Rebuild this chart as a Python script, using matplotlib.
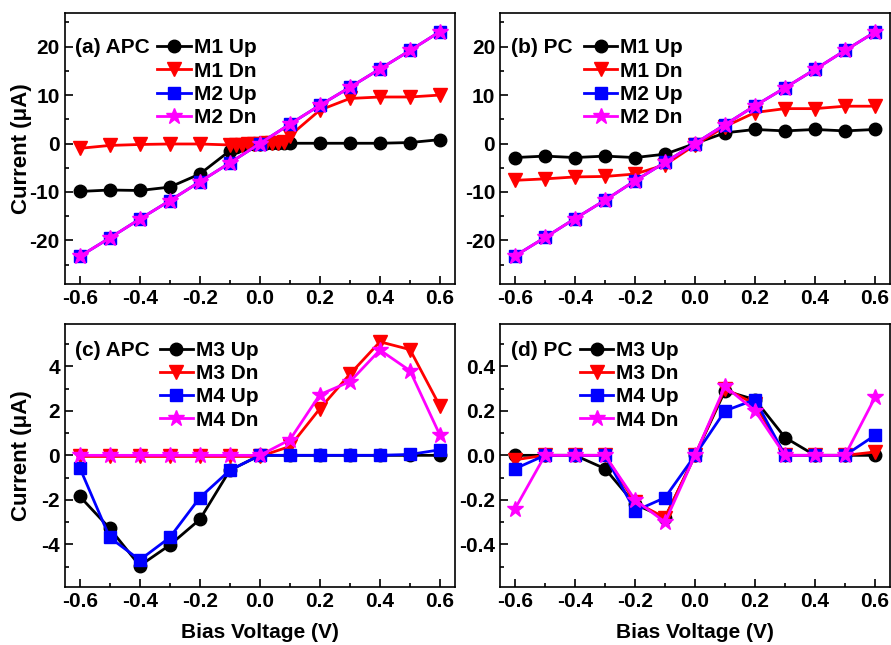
import matplotlib.pyplot as plt
from matplotlib.ticker import MultipleLocator

plt.rcParams['font.family'] = ['Liberation Sans', 'DejaVu Sans']
plt.rcParams['font.weight'] = 'bold'
plt.rcParams['axes.unicode_minus'] = False

# bias voltages
v = [-0.6, -0.5, -0.4, -0.3, -0.2, -0.1, 0.0, 0.1, 0.2, 0.3, 0.4, 0.5, 0.6]
v_fine = [-0.6, -0.5, -0.4, -0.3, -0.2, -0.1, -0.08, -0.06, -0.04, -0.02, 0.0,
          0.02, 0.04, 0.06, 0.08, 0.1, 0.2, 0.3, 0.4, 0.5, 0.6]
xticks = [-0.6, -0.4, -0.2, 0.0, 0.2, 0.4, 0.6]
xticklabels = ['-0.6', '-0.4', '-0.2', '0.0', '0.2', '0.4', '0.6']

# (a) APC
a_m1_up = [-9.9, -9.6, -9.7, -9.0, -6.3, -1.5, -0.8, -0.4, -0.2, -0.1, 0.0,
           0.05, 0.05, 0.05, 0.05, 0.05, 0.05, 0.05, 0.05, 0.2, 0.8]
a_m1_dn = [-1.0, -0.4, -0.2, -0.1, -0.1, -0.3, -0.3, -0.25, -0.2, -0.1, 0.0,
           0.1, 0.15, 0.2, 0.4, 1.6, 6.9, 9.3, 9.6, 9.6, 10.0]
a_m2_up = [-23.3, -19.5, -15.6, -11.8, -7.9, -4.0, 0.0, 4.0, 7.9, 11.6, 15.4, 19.2, 23.1]
a_m2_dn = [-23.3, -19.5, -15.6, -11.8, -7.9, -4.0, 0.0, 4.0, 7.9, 11.6, 15.4, 19.2, 23.1]

# (b) PC
b_m1_up = [-2.9, -2.6, -2.9, -2.6, -2.9, -2.2, 0.0, 2.2, 2.9, 2.6, 2.9, 2.6, 2.9]
b_m1_dn = [-7.6, -7.3, -6.9, -6.8, -6.3, -4.4, -0.3, 3.5, 6.4, 7.2, 7.2, 7.7, 7.7]
b_m2_up = [-23.2, -19.4, -15.5, -11.7, -7.7, -3.9, 0.0, 3.9, 7.8, 11.5, 15.3, 19.2, 23.0]
b_m2_dn = [-23.2, -19.4, -15.5, -11.7, -7.7, -3.9, 0.0, 3.9, 7.8, 11.5, 15.3, 19.2, 23.0]

# (c) APC
c_m3_up = [-1.84, -3.28, -4.96, -4.03, -2.88, -0.67, 0.0, 0.0, 0.0, 0.0, 0.0, 0.0, 0.0]
c_m3_dn = [-0.05, -0.05, -0.05, -0.05, -0.05, -0.05, -0.05, 0.4, 2.1, 3.65, 5.1, 4.75, 2.2]
c_m4_up = [-0.55, -3.69, -4.7, -3.69, -1.9, -0.67, 0.0, 0.0, 0.0, 0.0, 0.0, 0.04, 0.25]
c_m4_dn = [0.0, 0.0, 0.0, 0.0, 0.0, 0.0, 0.0, 0.7, 2.73, 3.31, 4.73, 3.8, 0.9]

# (d) PC
d_m3_up = [0.0, 0.0, 0.0, -0.06, -0.22, -0.28, 0.0, 0.29, 0.25, 0.08, 0.0, 0.0, 0.0]
d_m3_dn = [-0.02, 0.0, 0.0, 0.0, -0.21, -0.28, 0.0, 0.3, 0.23, 0.0, 0.0, 0.0, 0.015]
d_m4_up = [-0.06, 0.0, 0.0, 0.0, -0.25, -0.19, 0.0, 0.2, 0.25, 0.0, 0.0, 0.0, 0.09]
d_m4_dn = [-0.24, 0.0, 0.0, 0.0, -0.2, -0.3, 0.0, 0.31, 0.2, 0.0, 0.0, 0.0, 0.26]

colors = ['black', '#FF0000', '#0000FF', '#FF00FF']
markers = ['o', 'v', 's', '*']
msizes = [9, 9.5, 8, 12]

fig = plt.figure(figsize=(8.91, 6.45), dpi=100)
ax_a = fig.add_axes([0.0726, 0.5597, 0.4381, 0.4206])
ax_b = fig.add_axes([0.5612, 0.5597, 0.4377, 0.4206])
ax_c = fig.add_axes([0.0726, 0.0904, 0.4381, 0.4073])
ax_d = fig.add_axes([0.5612, 0.0904, 0.4377, 0.4073])

panels = [
    (ax_a, '(a) APC', [(v_fine, a_m1_up), (v_fine, a_m1_dn), (v, a_m2_up), (v, a_m2_dn)],
     ['M1 Up', 'M1 Dn', 'M2 Up', 'M2 Dn'], (-29, 27), 10, 5, 0.237, 0.87),
    (ax_b, '(b) PC', [(v, b_m1_up), (v, b_m1_dn), (v, b_m2_up), (v, b_m2_dn)],
     ['M1 Up', 'M1 Dn', 'M2 Up', 'M2 Dn'], (-29, 27), 10, 5, 0.215, 0.87),
    (ax_c, '(c) APC', [(v, c_m3_up), (v, c_m3_dn), (v, c_m4_up), (v, c_m4_dn)],
     ['M3 Up', 'M3 Dn', 'M4 Up', 'M4 Dn'], (-5.9, 5.9), 2, 1, 0.243, 0.90),
    (ax_d, '(d) PC', [(v, d_m3_up), (v, d_m3_dn), (v, d_m4_up), (v, d_m4_dn)],
     ['M3 Up', 'M3 Dn', 'M4 Up', 'M4 Dn'], (-0.59, 0.59), 0.2, 0.1, 0.205, 0.90),
]

for ax, tag, series, names, ylim, major, minor, lx, ty in panels:
    for (x, y), name, c, m, ms in zip(series, names, colors, markers, msizes):
        ax.plot(x, y, color=c, marker=m, markersize=ms, linewidth=2, label=name)
    ax.set_xlim(-0.65, 0.65)
    ax.set_ylim(*ylim)
    ax.set_xticks(xticks)
    ax.set_xticklabels(xticklabels)
    ax.xaxis.set_minor_locator(MultipleLocator(0.1))
    ax.yaxis.set_major_locator(MultipleLocator(major))
    ax.yaxis.set_minor_locator(MultipleLocator(minor))
    ax.tick_params(which='both', direction='in', top=False, right=False,
                   labelsize=15, width=1.2)
    ax.tick_params(which='major', length=6)
    ax.tick_params(which='minor', length=3)
    for sp in ax.spines.values():
        sp.set_linewidth(1.2)
    for lab in ax.get_xticklabels() + ax.get_yticklabels():
        lab.set_fontweight('bold')
    ax.text(0.027, ty, tag, transform=ax.transAxes, fontsize=15,
            fontweight='bold', va='center', ha='left')
    ax.legend(loc='upper left', bbox_to_anchor=(lx, ty + 0.035), frameon=False,
              fontsize=15, handlelength=1.6, handletextpad=0.15,
              labelspacing=0.2, borderaxespad=0, borderpad=0)

for ax in (ax_a, ax_c):
    ax.set_ylabel('Current (\u03bcA)', fontsize=16, fontweight='bold')
    ax.yaxis.set_label_coords(-0.085, 0.5)
for ax in (ax_c, ax_d):
    ax.set_xlabel('Bias Voltage (V)', fontsize=15, fontweight='bold', labelpad=9)

fig.savefig('out.png', dpi=100)
